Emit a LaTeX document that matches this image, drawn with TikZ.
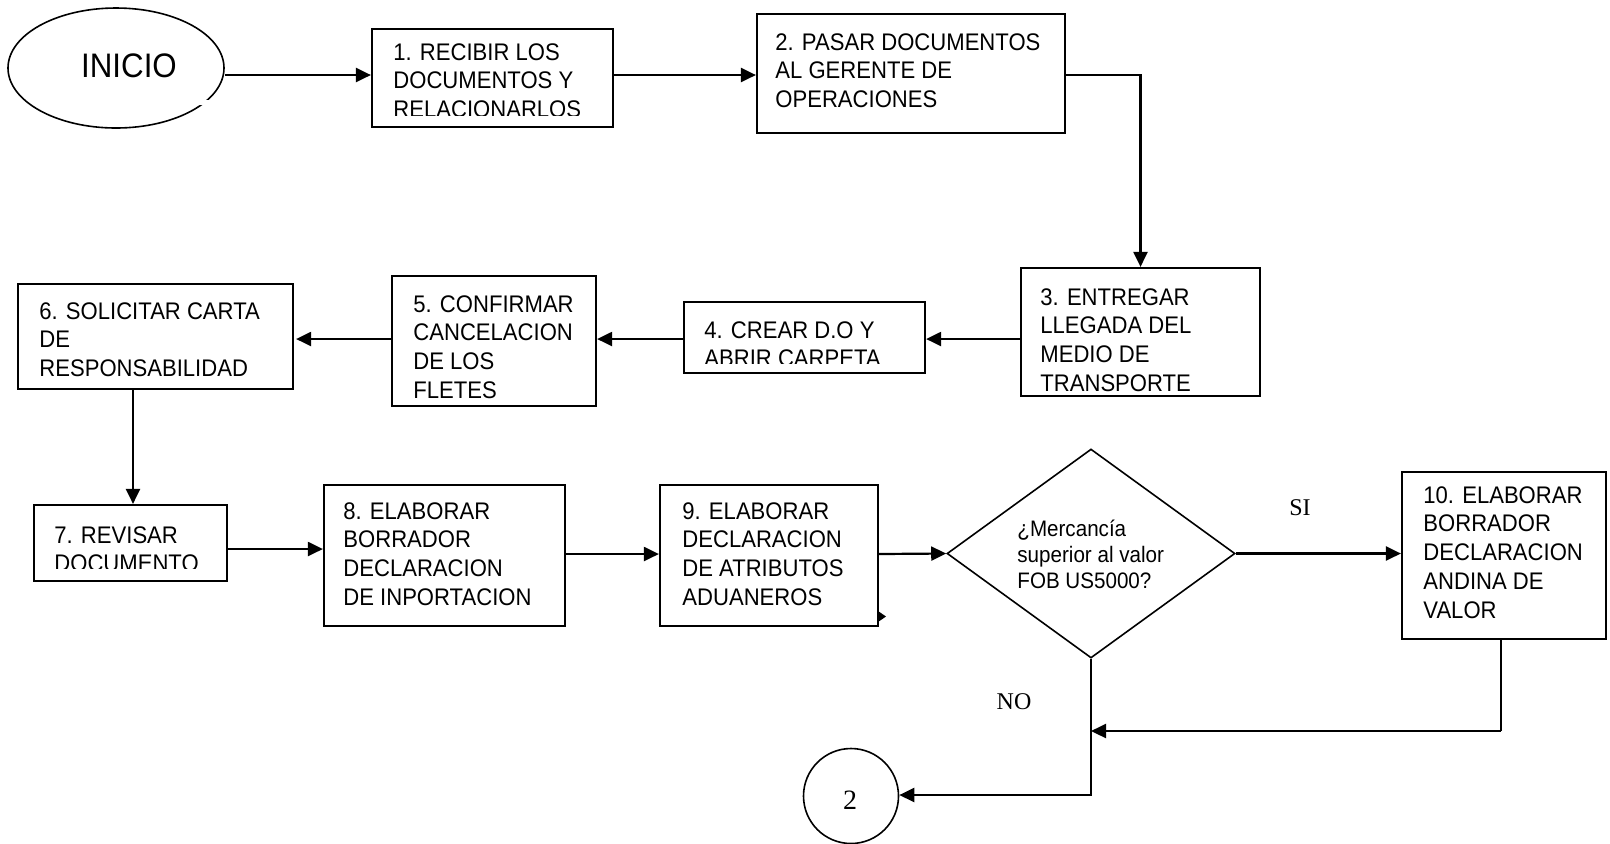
\documentclass[tikz,border=0pt]{standalone}
\usepackage{fontspec}
\setmainfont{Liberation Sans}
\newfontfamily\narrowsans[FakeStretch=0.92]{Liberation Sans}
\newfontfamily\serifface{Liberation Serif}
\usetikzlibrary{arrows.meta,shapes.geometric,fit}

\begin{document}
\begin{tikzpicture}[x=0.5pt,y=-0.5pt,
  procbox/.style={draw, rectangle, inner sep=0pt, line width=1.1pt},
  boxtext/.style={anchor=north west, inner sep=0pt, align=left,
    font=\narrowsans\fontsize{12}{14.4}\selectfont},
  arr/.style={-{Triangle[length=7.5pt,width=7pt]}, line width=1.1pt},
  link/.style={line width=1.1pt},
  thin shape/.style={draw, inner sep=0pt, line width=0.8pt},
]
\useasboundingbox (0,0) rectangle (1610,843);

% start terminal
\node[thin shape, ellipse, minimum width=108pt, minimum height=60pt] (inicio) at (116,68) {};
\fill[white] (199,100) rectangle (214,105);
\node[inner sep=0pt, font=\narrowsans\fontsize{17}{19}\selectfont] (iniciot) at (129,66) {INICIO};

% process boxes
\node[procbox, fit={(372,29) (613,127)}] (b1) {};
\node[procbox, fit={(757,14) (1065,133)}] (b2) {};
\node[procbox, fit={(1021,268) (1260,396)}] (b3) {};
\node[procbox, fit={(684,302) (925,373)}] (b4) {};
\node[procbox, fit={(392,276) (596,406)}] (b5) {};
\node[procbox, fit={(18,284) (293,389)}] (b6) {};
\node[procbox, fit={(34,505) (227,581)}] (b7) {};
\node[procbox, fit={(324,485) (565,626)}] (b8) {};
\node[procbox, fit={(660,485) (878,626)}] (b9) {};
\node[procbox, fit={(1402,472) (1606,639)}] (b10) {};

% box texts (the last line of boxes 1, 4 and 7 is cut by the text frame)
\begin{scope}
  \clip (372,29) rectangle (613,115);
  \node[boxtext] (b1t) at (393,43) {1. RECIBIR LOS\\DOCUMENTOS Y\\RELACIONARLOS};
\end{scope}
\node[boxtext] (b2t) at (775,33) {2. PASAR DOCUMENTOS\\AL GERENTE DE\\OPERACIONES};
\node[boxtext] (b3t) at (1040,288) {3. ENTREGAR\\LLEGADA DEL\\MEDIO DE\\TRANSPORTE};
\begin{scope}
  \clip (684,302) rectangle (925,363);
  \node[boxtext] (b4t) at (704,321) {4. CREAR D.O Y\\ABRIR CARPETA};
\end{scope}
\node[boxtext] (b5t) at (413,295) {5. CONFIRMAR\\CANCELACION\\DE LOS\\FLETES};
\node[boxtext] (b6t) at (39,302) {6. SOLICITAR CARTA\\DE\\RESPONSABILIDAD};
\begin{scope}
  \clip (34,505) rectangle (227,568);
  \node[boxtext] (b7t) at (54,526) {7. REVISAR\\DOCUMENTO};
\end{scope}
\node[boxtext] (b8t) at (343,502) {8. ELABORAR\\BORRADOR\\DECLARACION\\DE INPORTACION};
\node[boxtext] (b9t) at (682,502) {9. ELABORAR\\DECLARACION\\DE ATRIBUTOS\\ADUANEROS};
\node[boxtext] (b10t) at (1423,486) {10. ELABORAR\\BORRADOR\\DECLARACION\\ANDINA DE\\VALOR};

% decision
\node[thin shape, diamond, minimum width=144pt, minimum height=104.5pt] (dia) at (1091,553.5) {};
\node[anchor=north west, inner sep=0pt, align=left,
  font=\narrowsans\fontsize{11.2}{12.8}\selectfont] (diat) at (1017,520)
  {¿Mercancía\\superior al valor\\FOB US5000?};
\node[inner sep=0pt, font=\serifface\fontsize{12}{14}\selectfont] (si) at (1300,508) {SI};
\node[inner sep=0pt, font=\serifface\fontsize{12}{14}\selectfont] (no) at (1014,702) {NO};

% connector terminal
\node[thin shape, circle, minimum size=47.5pt] (endc) at (851,796) {};
\node[inner sep=0pt, font=\serifface\fontsize{14}{16}\selectfont] (endt) at (850,800) {2};

% connectors
\draw[arr] (inicio.east |- 0,75) -- (b1.west |- 0,75);
\draw[arr] (b1.east |- 0,75) -- (b2.west |- 0,75);
\draw[arr] (b2.east |- 0,75) -| (b3.north);
\draw[arr] (b3.west |- 0,339) -- (b4.east |- 0,339);
\draw[arr] (b4.west |- 0,339) -- (b5.east |- 0,339);
\draw[arr] (b5.west |- 0,339) -- ([xshift=1pt]b6.east |- 0,339);
\draw[arr] (b6.south -| 133,0) -- (b7.north -| 133,0);
\draw[arr] (b7.east |- 0,549) -- (b8.west |- 0,549);
\draw[arr] (b8.east |- 0,554) -- (b9.west |- 0,554);
\draw[arr] (b9.east |- 0,554) -- (dia.west);
\draw[arr] (dia.east) -- (b10.west |- dia.east);
\fill (878,611) -- (886,616.5) -- (878,622) -- cycle;

\coordinate (t10) at (1501,731);
\draw[link] (b10.south -| t10) -- (t10);
\draw[arr] (t10) -- (t10 -| dia.south);
\coordinate (t0) at (1092,795);
\draw[arr] (dia.south) -- (dia.south |- t0) -- (endc.east |- t0);
\end{tikzpicture}
\end{document}
